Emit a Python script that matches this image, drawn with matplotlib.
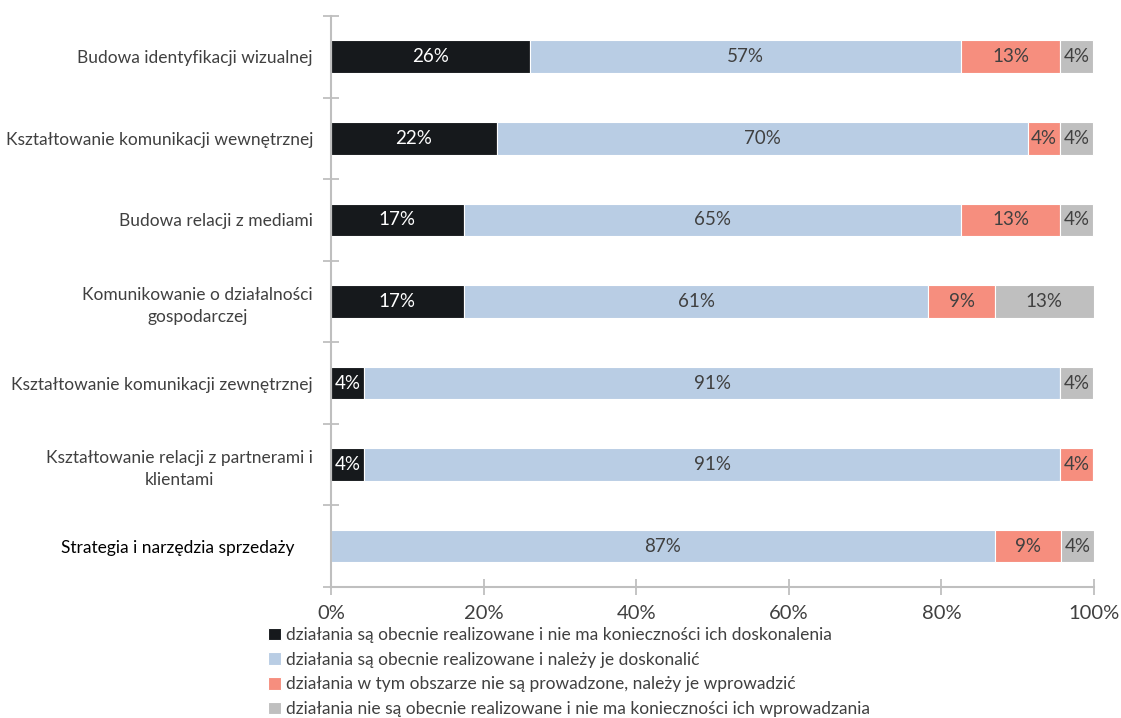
import matplotlib.pyplot as plt
import matplotlib.transforms as mtransforms

plt.rcParams['font.family'] = ['Lato', 'DejaVu Sans']

# data (share of respondents, %)
categories = [
    "Budowa identyfikacji wizualnej",
    "Kształtowanie komunikacji wewnętrznej",
    "Budowa relacji z mediami",
    "Komunikowanie o działalności\ngospodarczej",
    "Kształtowanie komunikacji zewnętrznej",
    "Kształtowanie relacji z partnerami i\nklientami",
    "Strategia i narzędzia sprzedaży",
]
realized_ok = [26.1, 21.7, 17.4, 17.4, 4.3, 4.3, 0.0]
realized_improve = [56.5, 69.6, 65.2, 60.9, 91.3, 91.3, 87.0]
to_introduce = [13.0, 4.3, 13.0, 8.7, 0.0, 4.3, 8.7]
not_needed = [4.3, 4.3, 4.3, 13.0, 4.3, 0.0, 4.3]

series_names = [
    "działania są obecnie realizowane i nie ma konieczności ich doskonalenia",
    "działania są obecnie realizowane i należy je doskonalić",
    "działania w tym obszarze nie są prowadzone, należy je wprowadzić",
    "działania nie są obecnie realizowane i nie ma konieczności ich wprowadzania",
]
colors = ["#16191c", "#b9cde4", "#f68e7e", "#bfbfbf"]
text_colors = ["white", "#404040", "#404040", "#404040"]

fig = plt.figure(figsize=(11.21, 7.18), dpi=100)
ax = fig.add_axes([0.2953, 0.1825, 0.6806, 0.7952])

y = list(range(len(categories)))
left = [0.0] * len(categories)
for vals, name, col, tcol in zip([realized_ok, realized_improve, to_introduce, not_needed],
                                 series_names, colors, text_colors):
    bars = ax.barh(y, vals, left=left, height=0.4, color=col, edgecolor="white",
                   linewidth=0.8, label=name)
    for b, v, l in zip(bars, vals, left):
        if v > 0:
            # round half up like Excel
            ax.text(l + v / 2, b.get_y() + b.get_height() / 2, f"{int(v + 0.5)}%",
                    ha="center", va="center", color=tcol, fontsize=13.5)
    left = [a + b for a, b in zip(left, vals)]

ax.set_xlim(0, 100)
ax.set_ylim(len(categories) - 0.5, -0.5)

ax.set_xticks(range(0, 101, 20))
ax.set_xticklabels([f"{t}%" for t in range(0, 101, 20)], fontsize=14.5, color="#404040")
ax.tick_params(axis="x", direction="inout", length=12, width=1.3, color="#bfbfbf", pad=7)

ax.set_yticks(y)
ax.set_yticklabels(categories, fontsize=12.5, color="#404040", multialignment="center",
                   linespacing=1.45)
ax.tick_params(axis="y", which="major", length=0, pad=13)
ax.set_yticks([i - 0.5 for i in range(len(categories) + 1)], minor=True)
ax.tick_params(axis="y", which="minor", direction="inout", length=12, width=1.3,
               color="#bfbfbf")

last = ax.get_yticklabels()[-1]
last.set_color("black")
last.set_transform(last.get_transform() +
                   mtransforms.ScaledTranslation(-0.18, 0, fig.dpi_scale_trans))

for s in ["top", "right"]:
    ax.spines[s].set_visible(False)
for s in ["left", "bottom"]:
    ax.spines[s].set_color("#bfbfbf")
    ax.spines[s].set_linewidth(1.5)

fig.legend(loc="upper left", bbox_to_anchor=(268 / 1121, 1 - 627 / 718), frameon=False,
           fontsize=12.5, handlelength=0.75, handleheight=0.75, handletextpad=0.3,
           labelspacing=0.5, borderpad=0, borderaxespad=0, labelcolor="#404040")

fig.savefig("out.png", dpi=100)
